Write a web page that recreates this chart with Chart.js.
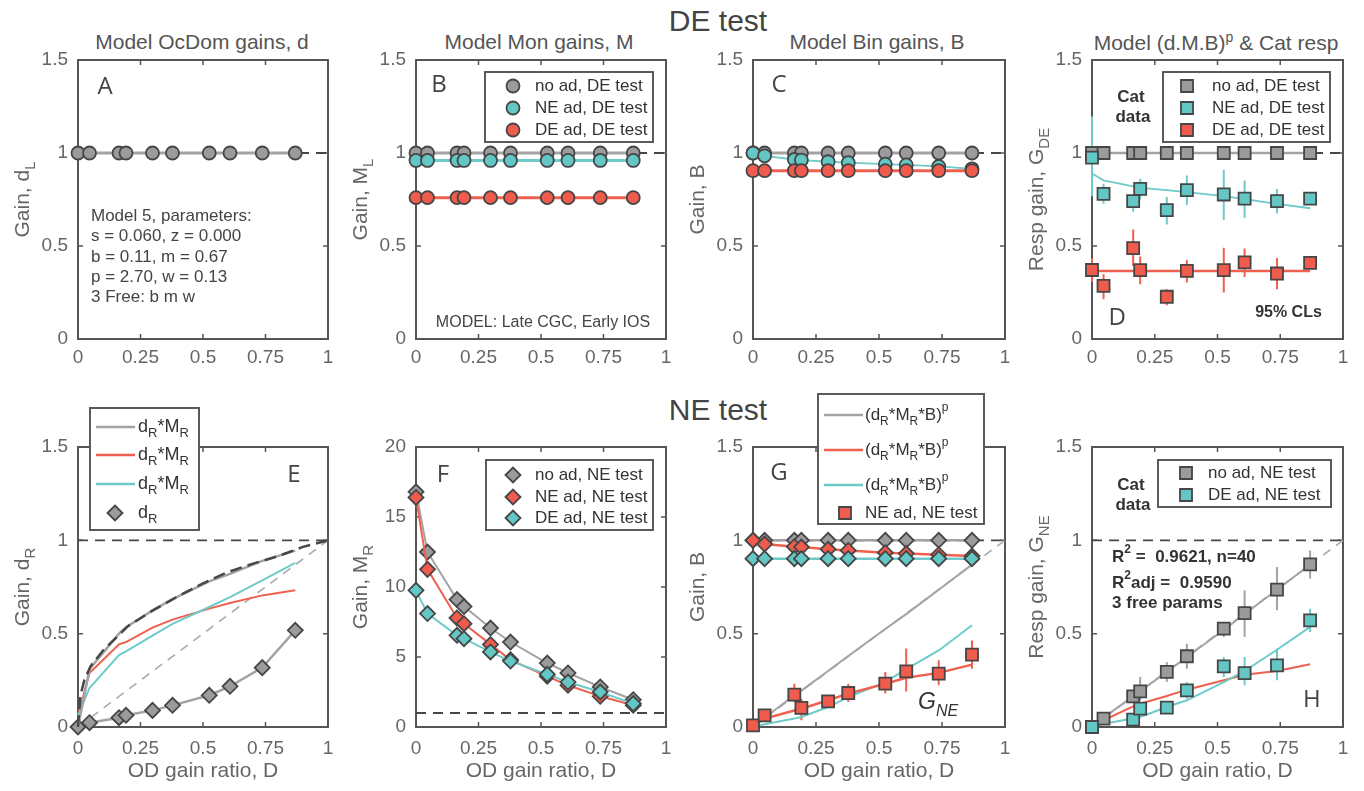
<!DOCTYPE html>
<html>
<head>
<meta charset="utf-8">
<script src="https://cdn.jsdelivr.net/npm/chart.js@4.4.1/dist/chart.umd.min.js"></script>
<style>
  body { margin: 0; background: #fff; width: 1364px; height: 791px; overflow: hidden; position: relative;
         font-family: "Liberation Sans", Arial, sans-serif; }
  canvas { position: absolute; }
  .hdr { position: absolute; font-size: 30px; color: #444; transform: translate(-50%, -50%); white-space: nowrap; }
  .ttl { position: absolute; font-size: 21px; color: #555; transform: translate(-50%, -50%); white-space: nowrap; }
  .ttl sup { font-size: 14px; }
</style>
</head>
<body>
<div class="hdr" style="left:718px;top:21px">DE test</div>
<div class="hdr" style="left:718px;top:410px">NE test</div>
<div class="ttl" style="left:202px;top:42px">Model OcDom gains, d</div>
<div class="ttl" style="left:539px;top:42px">Model Mon gains, M</div>
<div class="ttl" style="left:877px;top:42px">Model Bin gains, B</div>
<div class="ttl" style="left:1216px;top:42px">Model (d.M.B)<sup>p</sup> &amp; Cat resp</div>

<script>
// ---- data ----
const odRatio = [0, 0.046, 0.164, 0.192, 0.298, 0.378, 0.525, 0.608, 0.737, 0.869];
const unitLine = [0, 1];          // x ends of the y=1 / y=x reference lines
const xTickStep = 0.25;

// A: ocular dominance gains, left eye
const dL_noAd = [1, 1, 1, 1, 1, 1, 1, 1, 1, 1];
// B: monocular gains, left eye
const ML_noAd = [1, 1, 1, 1, 1, 1, 1, 1, 1, 1];
const ML_neAd = [0.96, 0.96, 0.96, 0.96, 0.96, 0.96, 0.96, 0.96, 0.96, 0.96];
const ML_deAd = [0.76, 0.76, 0.76, 0.76, 0.76, 0.76, 0.76, 0.76, 0.76, 0.76];
// C: binocular gains, DE test
const B_noAd = [1, 1, 1, 1, 1, 1, 1, 1, 1, 1];
const B_neAd = [1.0, 0.985, 0.965, 0.962, 0.953, 0.948, 0.94, 0.936, 0.928, 0.915];
const B_deAd = [0.905, 0.905, 0.905, 0.905, 0.905, 0.905, 0.905, 0.905, 0.905, 0.905];
// D: response gain, DE test (cat data + model)
const gDE_noAd = [1, 1, 1, 1, 1, 1, 1, 1, 1, 1];
const gDE_neAd = [0.975, 0.78, 0.741, 0.807, 0.693, 0.80, 0.777, 0.755, 0.741, 0.755];
const gDE_neAd_lo = [0.768, 0.727, 0.684, 0.75, 0.616, 0.72, 0.64, 0.652, 0.675, null];
const gDE_neAd_hi = [1.196, 0.834, 0.777, 0.862, 0.764, 0.879, 0.91, 0.852, 0.807, null];
const gDE_deAd = [0.371, 0.286, 0.489, 0.37, 0.227, 0.366, 0.37, 0.412, 0.352, 0.409];
const gDE_deAd_lo = [0.307, 0.214, 0.393, 0.295, 0.182, 0.304, 0.25, 0.334, 0.268, null];
const gDE_deAd_hi = [0.434, 0.348, 0.589, 0.443, 0.268, 0.425, 0.491, 0.486, 0.436, null];
const fitDE_noAd = [1, 1, 1, 1, 1, 1, 1, 1, 1, 1];
const fitDE_neAd = [0.89, 0.853, 0.82, 0.813, 0.80, 0.79, 0.768, 0.752, 0.727, 0.703];
const fitDE_deAd = [0.365, 0.365, 0.365, 0.365, 0.365, 0.365, 0.365, 0.365, 0.365, 0.365];
// E: ocular dominance gains, right eye
const dR = [0, 0.023, 0.05, 0.0625, 0.089, 0.116, 0.17, 0.218, 0.318, 0.518];
const dRMR_noAd = [0, 0.31, 0.50, 0.535, 0.625, 0.685, 0.78, 0.82, 0.89, 0.945];
const dRMR_neAd = [0.06, 0.289, 0.443, 0.455, 0.532, 0.575, 0.634, 0.664, 0.705, 0.732];
const dRMR_deAd = [0.06, 0.209, 0.385, 0.405, 0.49, 0.553, 0.643, 0.696, 0.786, 0.879];
const boundX = [0, 0.01, 0.025, 0.05, 0.1, 0.2, 0.3, 0.4, 0.5, 0.6, 0.7, 0.8, 0.9, 1.0];
const boundY = [0, 0.17, 0.25, 0.325, 0.41, 0.54, 0.625, 0.70, 0.77, 0.83, 0.875, 0.915, 0.965, 1.0];
// F: monocular gains, right eye
const MR_noAd = [16.8, 12.5, 9.1, 8.6, 7.07, 6.07, 4.57, 3.86, 2.86, 1.95];
const MR_neAd = [16.4, 11.26, 7.79, 7.38, 5.9, 4.8, 3.62, 2.98, 2.19, 1.55];
const MR_deAd = [9.76, 8.1, 6.55, 6.31, 5.36, 4.71, 3.76, 3.21, 2.5, 1.67];
// G: binocular gains, NE test + NE-adapted response
const BNE_noAd = [1, 1, 1, 1, 1, 1, 1, 1, 1, 1];
const BNE_neAd = [1.0, 0.98, 0.966, 0.964, 0.952, 0.946, 0.934, 0.929, 0.923, 0.916];
const BNE_deAd = [0.902, 0.902, 0.902, 0.902, 0.902, 0.902, 0.902, 0.902, 0.902, 0.902];
const fitG_noAd = [0, 0.05, 0.17, 0.195, 0.30, 0.38, 0.525, 0.605, 0.735, 0.87];
const fitG_neAd = [0.01, 0.045, 0.088, 0.098, 0.143, 0.179, 0.232, 0.264, 0.29, 0.334];
const fitG_deAd = [0, 0.015, 0.045, 0.054, 0.107, 0.16, 0.24, 0.31, 0.41, 0.545];
const gNE_neAd = [0.009, 0.0625, 0.173, 0.102, 0.1375, 0.182, 0.232, 0.298, 0.286, 0.3875];
const gNE_neAd_lo = [null, null, 0.134, 0.036, 0.12, 0.134, 0.179, 0.19, 0.223, 0.3125];
const gNE_neAd_hi = [null, null, 0.232, 0.152, 0.155, 0.232, 0.295, 0.42, 0.357, 0.464];
// H: response gain, NE test (cat data + model)
const gNE_noAd = [0, 0.045, 0.164, 0.191, 0.295, 0.379, 0.527, 0.61, 0.736, 0.871];
const gNE_noAd_lo = [null, null, null, 0.143, 0.241, 0.3125, 0.482, 0.482, 0.625, 0.795];
const gNE_noAd_hi = [null, null, null, 0.268, 0.348, 0.446, 0.5625, 0.732, 0.857, 0.946];
const gNE_deAd = [0, null, 0.039, 0.098, 0.104, 0.196, 0.325, 0.289, 0.33, 0.571];
const gNE_deAd_lo = [null, null, null, 0.07, 0.08, 0.152, 0.268, 0.223, 0.25, 0.509];
const gNE_deAd_hi = [null, null, null, 0.13, 0.125, 0.241, 0.375, 0.375, 0.42, 0.634];
const fitH_noAd = [0.01, 0.05, 0.165, 0.192, 0.295, 0.375, 0.52, 0.605, 0.735, 0.87];
const fitH_neAd = [0.01, 0.036, 0.11, 0.125, 0.166, 0.2, 0.25, 0.28, 0.30, 0.336];
const fitH_deAd = [0, 0.018, 0.045, 0.054, 0.107, 0.143, 0.24, 0.30, 0.414, 0.536];

// ---- styling ----
const FONT = '"Liberation Sans", Arial, sans-serif';
const LETTER_FONT = '"Open Sans", sans-serif';
const EDGE = '#464646';
const GRAY = '#9b9b9d', CYAN = '#63c7c6', RED = '#ef5b4c';
const LGRAY = '#a3a3a3', LRED = '#f0604f', LCYAN = '#6fcaca';
const DARK = '#474747';

function pts(xs, ys) {
  return xs.map((x, i) => ({ x, y: ys[i] })).filter(p => p.y !== null);
}

function series(label, ys, o) {
  const xs = o.xs || odRatio;
  return {
    label, data: pts(xs, ys),
    showLine: !!o.line, borderColor: o.line || 'transparent', borderWidth: o.lw || 2,
    borderDash: o.dash || [],
    pointStyle: o.marker || 'circle', pointRadius: o.marker ? (o.r || 6.5) : 0,
    pointBackgroundColor: o.fill, pointBorderColor: EDGE, pointBorderWidth: 1.8,
    clip: false,
    err: o.lo ? { xs, lo: o.lo, hi: o.hi, color: o.errColor } : null
  };
}
const refY1 = () => series('y=1', [1, 1], { xs: unitLine, line: DARK, lw: 1.8, dash: [10, 7] });
const refDiag = () => series('y=x', [0, 1], { xs: unitLine, line: '#aaaaaa', lw: 1.6, dash: [9, 7] });

// ---- rich text with _{sub} and ^{sup} ----
function richSegments(str) {
  const segs = []; let i = 0, buf = '';
  while (i < str.length) {
    const c = str[i];
    if ((c === '_' || c === '^') && str[i + 1] === '{') {
      if (buf) { segs.push({ t: buf, m: 0 }); buf = ''; }
      const end = str.indexOf('}', i + 2);
      segs.push({ t: str.slice(i + 2, end), m: c === '_' ? 1 : 2 });
      i = end + 1;
    } else { buf += c; i++; }
  }
  if (buf) segs.push({ t: buf, m: 0 });
  return segs;
}

function drawRich(ctx, str, x, y, o) {
  const size = o.size || 17, fam = o.family || FONT;
  const fontFor = m => `${o.style || 'normal'} ${o.weight || 'normal'} ${m ? Math.round(size * 0.7) : size}px ${fam}`;
  const segs = richSegments(str);
  let w = 0;
  segs.forEach(s => { ctx.font = fontFor(s.m); s.w = ctx.measureText(s.t).width; w += s.w; });
  let cx = o.align === 'center' ? x - w / 2 : o.align === 'right' ? x - w : x;
  ctx.fillStyle = o.color || '#444';
  ctx.textBaseline = 'middle';
  ctx.textAlign = 'left';
  segs.forEach(s => {
    ctx.font = fontFor(s.m);
    const dy = s.m === 1 ? size * 0.38 : s.m === 2 ? -size * 0.42 : 0;
    ctx.fillText(s.t, cx, y + dy);
    cx += s.w;
  });
}

function drawMarker(ctx, kind, x, y, r, fill) {
  ctx.beginPath();
  if (kind === 'circle') ctx.arc(x, y, r, 0, Math.PI * 2);
  else if (kind === 'rect') { const s = r * Math.SQRT1_2; ctx.rect(x - s, y - s, 2 * s, 2 * s); }
  else { ctx.moveTo(x - r, y); ctx.lineTo(x, y - r); ctx.lineTo(x + r, y); ctx.lineTo(x, y + r); ctx.closePath(); }
  ctx.fillStyle = fill; ctx.fill();
  ctx.strokeStyle = EDGE; ctx.lineWidth = 1.8; ctx.stroke();
}

function drawLegend(ctx, a, lg) {
  const bx = a.left + lg.left, by = a.top + lg.top;
  ctx.setLineDash([]);
  ctx.fillStyle = '#fff';
  ctx.fillRect(bx, by, lg.w, lg.h);
  ctx.strokeStyle = '#5a5a5a'; ctx.lineWidth = 2;
  ctx.strokeRect(bx, by, lg.w, lg.h);
  lg.rows.forEach(r => {
    const ry = by + r.y;
    if (r.kind === 'line') {
      ctx.strokeStyle = r.color; ctx.lineWidth = 2.5;
      ctx.beginPath(); ctx.moveTo(bx + lg.lineX[0], ry); ctx.lineTo(bx + lg.lineX[1], ry); ctx.stroke();
    } else {
      drawMarker(ctx, r.kind, bx + lg.markX, ry, r.r, r.color);
    }
    drawRich(ctx, r.label, bx + lg.textX, ry, { size: lg.size || 17, color: '#333' });
  });
}

// per-canvas decoration settings
const decor = {};

const panelDecor = {
  id: 'panelDecor',
  beforeDatasetsDraw(chart) {
    const { ctx, chartArea: a, scales: { x, y } } = chart;
    ctx.save();
    // box frame with inward ticks
    ctx.strokeStyle = '#555'; ctx.lineWidth = 2;
    ctx.strokeRect(a.left, a.top, a.width, a.height);
    ctx.lineWidth = 1.5;
    ctx.beginPath();
    x.ticks.forEach(t => {
      if (t.value <= x.min || t.value >= x.max) return;
      const px = x.getPixelForValue(t.value);
      ctx.moveTo(px, a.bottom); ctx.lineTo(px, a.bottom - 5);
      ctx.moveTo(px, a.top); ctx.lineTo(px, a.top + 5);
    });
    y.ticks.forEach(t => {
      if (t.value <= y.min || t.value >= y.max) return;
      const py = y.getPixelForValue(t.value);
      ctx.moveTo(a.left, py); ctx.lineTo(a.left + 5, py);
      ctx.moveTo(a.right, py); ctx.lineTo(a.right - 5, py);
    });
    ctx.stroke();
    // confidence limits
    chart.data.datasets.forEach(ds => {
      if (!ds.err) return;
      ctx.strokeStyle = ds.err.color; ctx.lineWidth = 2;
      ctx.beginPath();
      ds.err.xs.forEach((xv, i) => {
        if (ds.err.lo[i] === null) return;
        const px = x.getPixelForValue(xv);
        ctx.moveTo(px, y.getPixelForValue(ds.err.lo[i]));
        ctx.lineTo(px, y.getPixelForValue(ds.err.hi[i]));
      });
      ctx.stroke();
    });
    ctx.restore();
  },
  afterDraw(chart) {
    const cfg = decor[chart.canvas.id];
    const { ctx, chartArea: a, scales: { x, y } } = chart;
    ctx.save();
    (cfg.texts || []).forEach(t => {
      drawRich(ctx, t.t, x.getPixelForValue(t.x), y.getPixelForValue(t.y), t);
    });
    if (cfg.legend) drawLegend(ctx, a, cfg.legend);
    // y axis title (with subscripts)
    ctx.translate(a.left - 55, (a.top + a.bottom) / 2);
    ctx.rotate(-Math.PI / 2);
    drawRich(ctx, cfg.yTitle, 0, 0, { size: 21, color: '#666', align: 'center' });
    ctx.restore();
  }
};

const plainNum = v => String(Math.round(v * 100) / 100);

function makePanel(id, rect, cfg) {
  const [L, T, W, H] = rect;
  const YW = 80, TOP = 60, RIGHT = 20, XH = cfg.xTitle ? 61 : 40;
  const cv = document.createElement('canvas');
  cv.id = id;
  cv.width = YW + W + RIGHT;
  cv.height = TOP + H + XH;
  cv.style.left = (L - YW) + 'px';
  cv.style.top = (T - TOP) + 'px';
  document.body.appendChild(cv);
  decor[id] = cfg;
  const tickFont = { size: 19, family: FONT };
  new Chart(cv, {
    type: 'scatter',
    // datasets are listed bottom-to-top; Chart.js paints index 0 last
    data: { datasets: cfg.datasets.slice().reverse() },
    options: {
      responsive: false, animation: false, events: [],
      layout: { padding: { left: 0, top: TOP, right: RIGHT, bottom: 0 } },
      plugins: { legend: { display: false }, tooltip: { enabled: false } },
      scales: {
        x: {
          type: 'linear', min: 0, max: 1,
          ticks: { stepSize: xTickStep, padding: cfg.xTitle ? 10 : 7, color: '#666', font: tickFont,
                   maxRotation: 0, autoSkip: false, callback: plainNum },
          grid: { display: false, drawTicks: false }, border: { display: false },
          title: { display: !!cfg.xTitle, text: 'OD gain ratio, D', color: '#666',
                   font: { size: 21, family: FONT }, padding: { top: 4, bottom: 4 } },
          afterFit: s => { s.height = XH; }
        },
        y: {
          type: 'linear', min: 0, max: cfg.yMax,
          ticks: { stepSize: cfg.yStep, padding: 10, color: '#666', font: tickFont, callback: plainNum },
          grid: { display: false, drawTicks: false }, border: { display: false },
          afterFit: s => { s.width = YW; }
        }
      }
    },
    plugins: [panelDecor]
  });
}

const letter = (t, x, y) => ({ t, x, y, size: 24, family: LETTER_FONT, align: 'center', color: '#444' });

// ---- A ----
makePanel('pA', [78, 60, 250, 279], {
  yMax: 1.5, yStep: 0.5, yTitle: 'Gain, d_{L}',
  datasets: [
    refY1(),
    series('no ad', dL_noAd, { line: LGRAY, lw: 3, marker: 'circle', fill: GRAY })
  ],
  texts: [
    letter('A', 0.108, 1.355),
    { t: 'Model 5, parameters:', x: 0.052, y: 0.661, size: 17 },
    { t: 's = 0.060, z = 0.000', x: 0.052, y: 0.554, size: 17 },
    { t: 'b = 0.11, m = 0.67', x: 0.052, y: 0.441, size: 17 },
    { t: 'p = 2.70, w = 0.13', x: 0.052, y: 0.333, size: 17 },
    { t: '3 Free: b m w', x: 0.052, y: 0.222, size: 17 }
  ]
});

// ---- B ----
makePanel('pB', [416, 60, 250, 279], {
  yMax: 1.5, yStep: 0.5, yTitle: 'Gain, M_{L}',
  datasets: [
    refY1(),
    series('no ad, DE test', ML_noAd, { line: LGRAY, lw: 3, marker: 'circle', fill: GRAY }),
    series('NE ad, DE test', ML_neAd, { line: LCYAN, lw: 3, marker: 'circle', fill: CYAN }),
    series('DE ad, DE test', ML_deAd, { line: LRED, lw: 3, marker: 'circle', fill: RED })
  ],
  texts: [
    letter('B', 0.092, 1.366),
    { t: 'MODEL: Late CGC, Early IOS', x: 0.508, y: 0.086, size: 16, align: 'center' }
  ],
  legend: { left: 69, top: 12, w: 168, h: 70, markX: 28, textX: 50, rows: [
    { y: 14, kind: 'circle', r: 6.5, color: GRAY, label: 'no ad, DE test' },
    { y: 36, kind: 'circle', r: 6.5, color: CYAN, label: 'NE ad, DE test' },
    { y: 58, kind: 'circle', r: 6.5, color: RED, label: 'DE ad, DE test' }
  ] }
});

// ---- C ----
makePanel('pC', [753, 60, 252, 279], {
  yMax: 1.5, yStep: 0.5, yTitle: 'Gain, B',
  datasets: [
    refY1(),
    series('no ad', B_noAd, { line: LGRAY, lw: 3, marker: 'circle', fill: GRAY }),
    series('NE ad', B_neAd, { line: LCYAN, lw: 1.8, marker: 'circle', fill: CYAN }),
    series('DE ad', B_deAd, { line: LRED, lw: 3, marker: 'circle', fill: RED })
  ],
  texts: [letter('C', 0.103, 1.366)]
});

// ---- D ----
makePanel('pD', [1092, 60, 251, 279], {
  yMax: 1.5, yStep: 0.5, yTitle: 'Resp gain, G_{DE}',
  datasets: [
    refY1(),
    series('fit no ad', fitDE_noAd, { line: LGRAY, lw: 2.5 }),
    series('fit NE ad', fitDE_neAd, { line: LCYAN, lw: 1.8 }),
    series('fit DE ad', fitDE_deAd, { line: LRED, lw: 2.5 }),
    series('no ad, DE test', gDE_noAd, { marker: 'rect', r: 8.5, fill: GRAY }),
    series('NE ad, DE test', gDE_neAd, { marker: 'rect', r: 8.5, fill: CYAN, lo: gDE_neAd_lo, hi: gDE_neAd_hi, errColor: LCYAN }),
    series('DE ad, DE test', gDE_deAd, { marker: 'rect', r: 8.5, fill: RED, lo: gDE_deAd_lo, hi: gDE_deAd_hi, errColor: LRED })
  ],
  texts: [
    { t: 'Cat', x: 0.155, y: 1.30, size: 17, weight: 'bold', align: 'center', color: '#333' },
    { t: 'data', x: 0.163, y: 1.194, size: 17, weight: 'bold', align: 'center', color: '#333' },
    { t: '95% CLs', x: 0.65, y: 0.14, size: 16, weight: 'bold', color: '#333' },
    letter('D', 0.1, 0.113)
  ],
  legend: { left: 71, top: 12, w: 167, h: 70, markX: 24, textX: 49, rows: [
    { y: 14, kind: 'rect', r: 8.5, color: GRAY, label: 'no ad, DE test' },
    { y: 36, kind: 'rect', r: 8.5, color: CYAN, label: 'NE ad, DE test' },
    { y: 58, kind: 'rect', r: 8.5, color: RED, label: 'DE ad, DE test' }
  ] }
});

// ---- E ----
makePanel('pE', [78, 447, 250, 280], {
  yMax: 1.5, yStep: 0.5, yTitle: 'Gain, d_{R}', xTitle: true,
  datasets: [
    refY1(),
    refDiag(),
    series('d_R', dR, { line: LGRAY, lw: 2.5, marker: 'rectRot', r: 7.5, fill: GRAY }),
    series('dM NE ad', dRMR_neAd, { line: LRED, lw: 2 }),
    series('dM DE ad', dRMR_deAd, { line: LCYAN, lw: 2 }),
    series('dM no ad', dRMR_noAd, { line: LGRAY, lw: 2.5 }),
    series('bound', boundY, { xs: boundX, line: DARK, lw: 2.5, dash: [12, 6] })
  ],
  texts: [letter('E', 0.864, 1.35)],
  legend: { left: 12, top: -39, w: 109, h: 122, markX: 25, textX: 48, lineX: [6, 45], size: 18, rows: [
    { y: 19, kind: 'line', color: LGRAY, label: 'd_{R}*M_{R}' },
    { y: 47, kind: 'line', color: LRED, label: 'd_{R}*M_{R}' },
    { y: 76, kind: 'line', color: LCYAN, label: 'd_{R}*M_{R}' },
    { y: 105, kind: 'rectRot', r: 7.5, color: GRAY, label: 'd_{R}' }
  ] }
});

// ---- F ----
makePanel('pF', [416, 447, 250, 280], {
  yMax: 20, yStep: 5, yTitle: 'Gain, M_{R}', xTitle: true,
  datasets: [
    refY1(),
    series('no ad, NE test', MR_noAd, { line: LGRAY, lw: 2, marker: 'rectRot', r: 7.5, fill: GRAY }),
    series('NE ad, NE test', MR_neAd, { line: LRED, lw: 2, marker: 'rectRot', r: 7.5, fill: RED }),
    series('DE ad, NE test', MR_deAd, { line: LCYAN, lw: 2, marker: 'rectRot', r: 7.5, fill: CYAN })
  ],
  texts: [letter('F', 0.108, 18.0)],
  legend: { left: 70, top: 13, w: 167, h: 70, markX: 27, textX: 49, rows: [
    { y: 15, kind: 'rectRot', r: 7.5, color: GRAY, label: 'no ad, NE test' },
    { y: 37, kind: 'rectRot', r: 7.5, color: RED, label: 'NE ad, NE test' },
    { y: 58, kind: 'rectRot', r: 7.5, color: CYAN, label: 'DE ad, NE test' }
  ] }
});

// ---- G ----
makePanel('pG', [753, 447, 252, 280], {
  yMax: 1.5, yStep: 0.5, yTitle: 'Gain, B', xTitle: true,
  datasets: [
    refDiag(),
    refY1(),
    series('fit no ad', fitG_noAd, { line: LGRAY, lw: 2 }),
    series('fit DE ad', fitG_deAd, { line: LCYAN, lw: 2 }),
    series('fit NE ad', fitG_neAd, { line: LRED, lw: 2.5 }),
    series('NE ad, NE test', gNE_neAd, { marker: 'rect', r: 8.5, fill: RED, lo: gNE_neAd_lo, hi: gNE_neAd_hi, errColor: LRED }),
    series('B no ad', BNE_noAd, { line: LGRAY, lw: 2.5, marker: 'rectRot', r: 7.5, fill: GRAY }),
    series('B NE ad', BNE_neAd, { line: LRED, lw: 2.5, marker: 'rectRot', r: 7.5, fill: RED }),
    series('B DE ad', BNE_deAd, { line: LCYAN, lw: 2.5, marker: 'rectRot', r: 7.5, fill: CYAN })
  ],
  texts: [
    letter('G', 0.103, 1.36),
    { t: 'G_{NE}', x: 0.655, y: 0.13, size: 23, style: 'italic', color: '#333' }
  ],
  legend: { left: 65, top: -53, w: 166, h: 130, markX: 27, textX: 47, lineX: [6, 45], size: 17, rows: [
    { y: 21, kind: 'line', color: LGRAY, label: '(d_{R}*M_{R}*B)^{p}' },
    { y: 56, kind: 'line', color: LRED, label: '(d_{R}*M_{R}*B)^{p}' },
    { y: 91, kind: 'line', color: LCYAN, label: '(d_{R}*M_{R}*B)^{p}' },
    { y: 119, kind: 'rect', r: 8.5, color: RED, label: 'NE ad, NE test' }
  ] }
});

// ---- H ----
makePanel('pH', [1092, 447, 251, 280], {
  yMax: 1.5, yStep: 0.5, yTitle: 'Resp gain, G_{NE}', xTitle: true,
  datasets: [
    refY1(),
    refDiag(),
    series('fit no ad', fitH_noAd, { line: LGRAY, lw: 2 }),
    series('fit NE ad', fitH_neAd, { line: LRED, lw: 2 }),
    series('fit DE ad', fitH_deAd, { line: LCYAN, lw: 2 }),
    series('no ad, NE test', gNE_noAd, { marker: 'rect', r: 8.5, fill: GRAY, lo: gNE_noAd_lo, hi: gNE_noAd_hi, errColor: LGRAY }),
    series('DE ad, NE test', gNE_deAd, { marker: 'rect', r: 8.5, fill: CYAN, lo: gNE_deAd_lo, hi: gNE_deAd_hi, errColor: LCYAN })
  ],
  texts: [
    { t: 'Cat', x: 0.155, y: 1.296, size: 17, weight: 'bold', align: 'center', color: '#333' },
    { t: 'data', x: 0.163, y: 1.189, size: 17, weight: 'bold', align: 'center', color: '#333' },
    { t: 'R^{2} =  0.9621, n=40', x: 0.08, y: 0.911, size: 17, weight: 'bold', color: '#333' },
    { t: 'R^{2}adj =  0.9590', x: 0.08, y: 0.771, size: 17, weight: 'bold', color: '#333' },
    { t: '3 free params', x: 0.08, y: 0.664, size: 17, weight: 'bold', color: '#333' },
    letter('H', 0.876, 0.145)
  ],
  legend: { left: 66, top: 13, w: 173, h: 47, markX: 28, textX: 50, rows: [
    { y: 13, kind: 'rect', r: 8.5, color: GRAY, label: 'no ad, NE test' },
    { y: 35, kind: 'rect', r: 8.5, color: CYAN, label: 'DE ad, NE test' }
  ] }
});
</script>
</body>
</html>
